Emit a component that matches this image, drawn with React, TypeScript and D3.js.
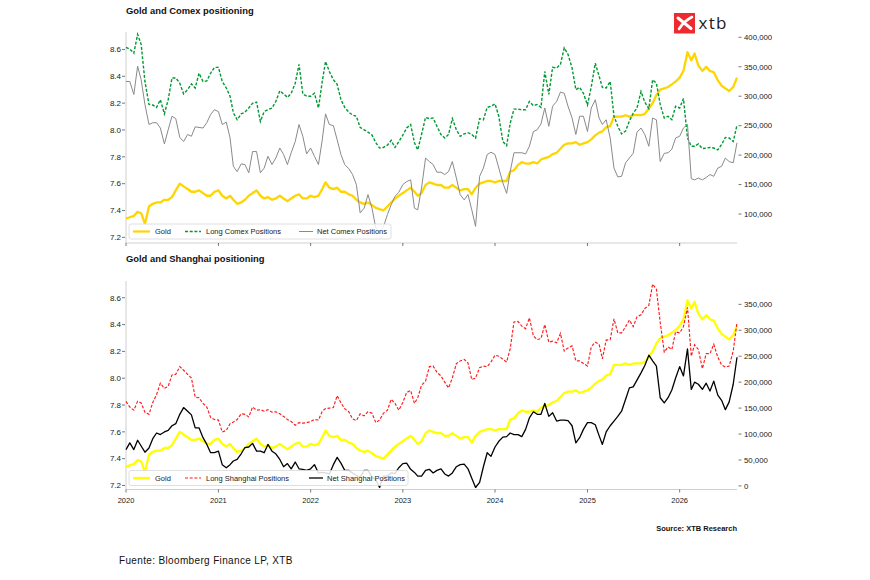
import React from "react";
import * as d3 from "d3";

// ---------- data (semi-monthly readings, 1st and 16th of each month) ----------
const yearLabels = ["2020", "2021", "2022", "2023", "2024", "2025", "2026"];
const monthStarts: Date[] = d3.timeMonth.range(new Date(2020, 0, 1), new Date(2026, 8, 1));
const dates: Date[] = monthStarts.flatMap((d) => [d, d3.timeDay.offset(d, 15)]);

// log gold price (left axis, both panels)
const goldLog = [
  7.34, 7.35, 7.36, 7.39, 7.38, 7.30, 7.43, 7.45, 7.46, 7.46,
  7.48, 7.48, 7.50, 7.55, 7.60, 7.58, 7.56, 7.54, 7.54, 7.55,
  7.53, 7.51, 7.51, 7.54, 7.55, 7.51, 7.49, 7.51, 7.48, 7.45,
  7.46, 7.48, 7.51, 7.53, 7.55, 7.51, 7.49, 7.50, 7.48, 7.49,
  7.51, 7.49, 7.47, 7.49, 7.51, 7.52, 7.49, 7.49, 7.51, 7.50,
  7.51, 7.56, 7.61, 7.57, 7.56, 7.57, 7.54, 7.54, 7.52, 7.51,
  7.48, 7.46, 7.45, 7.46, 7.44, 7.42, 7.41, 7.40, 7.43, 7.46,
  7.49, 7.51, 7.53, 7.55, 7.57, 7.54, 7.51, 7.53, 7.59, 7.61,
  7.60, 7.59, 7.59, 7.57, 7.57, 7.59, 7.57, 7.55, 7.56, 7.56,
  7.52, 7.57, 7.60, 7.61, 7.62, 7.62, 7.61, 7.62, 7.62, 7.62,
  7.69, 7.70, 7.74, 7.76, 7.75, 7.75, 7.76, 7.75, 7.78, 7.79,
  7.80, 7.82, 7.83, 7.86, 7.89, 7.90, 7.90, 7.91, 7.89, 7.90,
  7.91, 7.93, 7.96, 7.98, 7.99, 8.02, 8.03, 8.10, 8.10, 8.10,
  8.11, 8.10, 8.11, 8.11, 8.11, 8.12, 8.16, 8.20, 8.26, 8.30,
  8.31, 8.32, 8.34, 8.36, 8.39, 8.44, 8.58, 8.52, 8.57, 8.48,
  8.44, 8.47, 8.44, 8.43, 8.37, 8.33, 8.31, 8.29, 8.32, 8.39,
];

// Comex positions, thousands of contracts (right axis, top panel)
const longComexK = [
  383, 380, 373, 405, 388, 325, 286, 285, 281, 294,
  270, 294, 331, 331, 322, 304, 311, 321, 314, 339,
  325, 326, 339, 349, 349, 325, 314, 300, 272, 260,
  270, 273, 280, 288, 290, 257, 274, 277, 280, 291,
  309, 304, 298, 305, 322, 354, 304, 300, 300, 305,
  280, 325, 359, 342, 328, 320, 294, 281, 273, 268,
  266, 247, 243, 239, 234, 221, 212, 213, 217, 225,
  213, 223, 234, 246, 252, 221, 209, 235, 264, 262,
  263, 249, 235, 229, 235, 262, 243, 232, 236, 238,
  235, 229, 262, 260, 281, 283, 287, 266, 223, 216,
  254, 278, 278, 277, 277, 291, 284, 286, 281, 342,
  303, 349, 348, 354, 382, 371, 348, 311, 315, 305,
  285, 316, 356, 334, 315, 314, 325, 266, 249, 236,
  241, 258, 271, 280, 308, 290, 279, 328, 322, 286,
  263, 266, 260, 283, 280, 296, 229, 215, 215, 219,
  211, 212, 213, 212, 209, 218, 230, 229, 223, 251,
];
const netComexK = [
  325, 325, 303, 351, 328, 286, 252, 255, 255, 246,
  219, 243, 266, 262, 230, 223, 235, 232, 248, 247,
  246, 255, 269, 277, 274, 252, 256, 229, 181, 172,
  185, 184, 170, 206, 206, 170, 178, 198, 184, 195,
  212, 201, 184, 204, 223, 252, 232, 202, 212, 198,
  184, 226, 270, 252, 250, 226, 201, 184, 177, 167,
  150, 102, 110, 133, 110, 76, 70, 78, 99, 116,
  130, 137, 150, 155, 158, 110, 107, 144, 195, 189,
  184, 171, 171, 167, 172, 189, 161, 133, 124, 133,
  107, 79, 164, 178, 201, 205, 201, 178, 153, 135,
  172, 204, 204, 204, 202, 215, 240, 243, 253, 280,
  249, 283, 291, 307, 305, 283, 263, 235, 266, 266,
  240, 280, 294, 263, 252, 260, 229, 178, 163, 164,
  187, 195, 203, 239, 246, 235, 215, 263, 260, 189,
  203, 204, 210, 229, 232, 246, 252, 160, 158, 161,
  158, 162, 167, 164, 178, 181, 195, 189, 187, 221,
];

// Shanghai positions, thousands (right axis, bottom panel)
const longShanghaiK = [
  163, 152, 146, 163, 160, 142, 138, 161, 176, 198,
  188, 192, 214, 215, 230, 223, 215, 208, 171, 170,
  159, 152, 132, 128, 127, 104, 107, 120, 123, 128,
  139, 138, 133, 152, 146, 147, 144, 147, 142, 143,
  139, 134, 128, 124, 117, 122, 121, 122, 124, 128,
  127, 144, 149, 150, 151, 174, 160, 149, 143, 129,
  126, 139, 135, 143, 140, 122, 127, 140, 146, 167,
  159, 146, 161, 180, 184, 159, 170, 194, 202, 230,
  231, 219, 212, 200, 189, 208, 236, 241, 244, 237,
  205, 208, 228, 231, 230, 239, 252, 250, 244, 239,
  264, 316, 317, 308, 303, 324, 289, 282, 284, 311,
  277, 279, 276, 294, 260, 266, 270, 241, 241, 236,
  231, 268, 277, 273, 245, 281, 282, 322, 295, 295,
  307, 320, 307, 326, 330, 342, 348, 389, 379, 315,
  258, 268, 263, 297, 295, 307, 344, 250, 272, 263,
  226, 255, 255, 273, 248, 233, 229, 231, 260, 315,
];
const netShanghaiK = [
  70, 83, 70, 88, 77, 65, 73, 91, 102, 99,
  104, 107, 116, 120, 138, 151, 144, 137, 112, 112,
  93, 80, 64, 64, 67, 41, 35, 41, 48, 51,
  62, 74, 75, 82, 67, 67, 64, 80, 67, 62,
  51, 37, 43, 33, 46, 33, 32, 30, 33, 41,
  25, 26, 25, 23, 41, 55, 44, 30, 30, 25,
  20, 17, 30, 30, 17, 12, -3, 19, 19, 25,
  24, 35, 43, 44, 32, 26, 19, 19, 30, 32,
  25, 30, 33, 23, 19, 25, 37, 41, 42, 33,
  15, -3, 7, 37, 64, 57, 75, 86, 94, 95,
  102, 99, 99, 95, 109, 131, 143, 138, 138, 159,
  134, 141, 125, 127, 127, 126, 116, 83, 93, 109,
  122, 122, 118, 97, 80, 104, 116, 125, 134, 144,
  167, 189, 191, 204, 218, 232, 252, 241, 231, 170,
  160, 170, 185, 208, 230, 212, 264, 186, 200, 196,
  186, 198, 183, 202, 175, 165, 147, 162, 196, 248,
];

const leftTicks = [7.2, 7.4, 7.6, 7.8, 8.0, 8.2, 8.4, 8.6];
const comexTicksK = [100, 150, 200, 250, 300, 350, 400];
const shanghaiTicksK = [0, 50, 100, 150, 200, 250, 300, 350];

const topLegend = ["Gold", "Long Comex Positions", "Net Comex Positions"];
const bottomLegend = ["Gold", "Long Shanghai Positions", "Net Shanghai Positions"];

// ---------- layout ----------
const X0 = 126;
const X1 = 737;
const FONT = "'Liberation Sans', Arial, sans-serif";
const SPINE = "#cfcfcf";
const TICK = "#555";
const DASH = "3,1.7";

type Panel = {
  top: number;
  bottom: number;
  leftDomain: [number, number];
  rightDomain: [number, number];
  rightTicks: number[];
  showYears: boolean;
  title: string;
  titleY: number;
  goldColor: string;
  longColor: string;
  longWidth: number;
  longData: number[];
  netColor: string;
  netWidth: number;
  netData: number[];
  legend: string[];
  legendW: number;
  legendNetX: number;
};

const panels: Panel[] = [
  {
    top: 32,
    bottom: 243,
    leftDomain: [7.158, 8.73],
    rightDomain: [50.8, 409],
    rightTicks: comexTicksK,
    showYears: false,
    title: "Gold and Comex positioning",
    titleY: 14,
    goldColor: "#FFD500",
    longColor: "#009933",
    longWidth: 1.4,
    longData: longComexK,
    netColor: "#8a8a8a",
    netWidth: 1,
    netData: netComexK,
    legend: topLegend,
    legendW: 262,
    legendNetX: 299,
  },
  {
    top: 281,
    bottom: 489.5,
    leftDomain: [7.17, 8.725],
    rightDomain: [-6.9, 395],
    rightTicks: shanghaiTicksK,
    showYears: true,
    title: "Gold and Shanghai positioning",
    titleY: 262,
    goldColor: "#FFFF00",
    longColor: "#FF1A1A",
    longWidth: 1.15,
    longData: longShanghaiK,
    netColor: "#000000",
    netWidth: 1.3,
    netData: netShanghaiK,
    legend: bottomLegend,
    legendW: 279,
    legendNetX: 309,
  },
];

const x = d3
  .scaleTime()
  .domain([new Date(2020, 0, 1), new Date(2026, 7, 16)])
  .range([X0, X1]);

const fmtK = (v: number) => d3.format(",")(v * 1000);

function ChartPanel({ p }: { p: Panel }) {
  const yL = d3.scaleLinear().domain(p.leftDomain).range([p.bottom, p.top]);
  const yR = d3.scaleLinear().domain(p.rightDomain).range([p.bottom, p.top]);
  const goldLine = d3
    .line<number>()
    .x((_, i) => x(dates[i]))
    .y((d) => yL(d));
  const posLine = d3
    .line<number>()
    .x((_, i) => x(dates[i]))
    .y((d) => yR(d));
  const yearTicks = yearLabels.map((y) => new Date(+y, 0, 1));
  const ly = p.bottom - 11.5;
  return (
    <g>
      <text x={126} y={p.titleY} fontSize={9.4} fontWeight="bold" fill="#111">
        {p.title}
      </text>
      <line x1={X0} x2={X0} y1={p.top} y2={p.bottom} stroke={SPINE} strokeWidth={1} />
      <line x1={X0} x2={X1} y1={p.bottom} y2={p.bottom} stroke={SPINE} strokeWidth={1} />
      {leftTicks.map((t) => (
        <g key={"l" + t}>
          <line x1={122} x2={125} y1={yL(t)} y2={yL(t)} stroke={TICK} strokeWidth={0.8} />
          <text x={121} y={yL(t) + 2.8} fontSize={8} textAnchor="end" fill="#222">
            {d3.format(".1f")(t)}
          </text>
        </g>
      ))}
      {p.rightTicks.map((t) => (
        <g key={"r" + t}>
          <line x1={738.5} x2={741.5} y1={yR(t)} y2={yR(t)} stroke={TICK} strokeWidth={0.8} />
          <text x={744} y={yR(t) + 2.8} fontSize={7.8} fill="#222">
            {fmtK(t)}
          </text>
        </g>
      ))}
      {yearTicks.map((d, i) => (
        <g key={"x" + i}>
          <line x1={x(d)} x2={x(d)} y1={p.bottom} y2={p.bottom + 3} stroke={TICK} strokeWidth={0.8} />
          {p.showYears && (
            <text x={x(d)} y={p.bottom + 13} fontSize={7.5} textAnchor="middle" fill="#222">
              {yearLabels[i]}
            </text>
          )}
        </g>
      ))}
      <path d={goldLine(goldLog) || ""} fill="none" stroke={p.goldColor} strokeWidth={2.3} strokeLinejoin="round" />
      <path d={posLine(p.longData) || ""} fill="none" stroke={p.longColor} strokeWidth={p.longWidth} strokeDasharray={DASH} />
      <path d={posLine(p.netData) || ""} fill="none" stroke={p.netColor} strokeWidth={p.netWidth} strokeLinejoin="round" />
      <rect x={129} y={ly - 7.5} width={p.legendW} height={15} rx={2} fill="#fff" fillOpacity={0.85} stroke="#d8d8d8" strokeWidth={0.8} />
      <line x1={133} x2={150} y1={ly} y2={ly} stroke={p.goldColor} strokeWidth={2.2} />
      <text x={155} y={ly + 2.7} fontSize={7.5} fill="#222">{p.legend[0]}</text>
      <line x1={185} x2={201} y1={ly} y2={ly} stroke={p.longColor} strokeWidth={p.longWidth} strokeDasharray={DASH} />
      <text x={206} y={ly + 2.7} fontSize={7.5} fill="#222">{p.legend[1]}</text>
      <line x1={p.legendNetX} x2={p.legendNetX + 14} y1={ly} y2={ly} stroke={p.netColor} strokeWidth={p.netWidth} />
      <text x={p.legendNetX + 18} y={ly + 2.7} fontSize={7.5} fill="#222">{p.legend[2]}</text>
    </g>
  );
}

export default function App() {
  return (
    <svg
      width={870}
      height={580}
      viewBox="0 0 870 580"
      style={{ position: "absolute", left: 0, top: 0, background: "#fff" }}
      fontFamily={FONT}
    >
      <rect x={0} y={0} width={870} height={580} fill="#fff" />
      {panels.map((p, i) => (
        <ChartPanel key={i} p={p} />
      ))}
      <rect x={674} y={13} width={21} height={20.5} fill="#EE2A2E" />
      <path d="M678 18 L691 28.5" stroke="#fff" strokeWidth={3} strokeLinecap="round" />
      <path d="M692 17 Q684 21 679 29" stroke="#fff" strokeWidth={2.6} fill="none" strokeLinecap="round" />
      <text x={698.5} y={28.5} fontSize={17} fill="#1a1a1a" fontFamily="'Open Sans', Arial, sans-serif" textLength={28}>
        xtb
      </text>
      <text x={737} y={530.5} fontSize={7.5} fontWeight="bold" textAnchor="end" fill="#111">
        Source: XTB Research
      </text>
      <text x={119} y={564} fontSize={10} letterSpacing={0.35} fill="#111">
        Fuente: Bloomberg Finance LP, XTB
      </text>
    </svg>
  );
}
